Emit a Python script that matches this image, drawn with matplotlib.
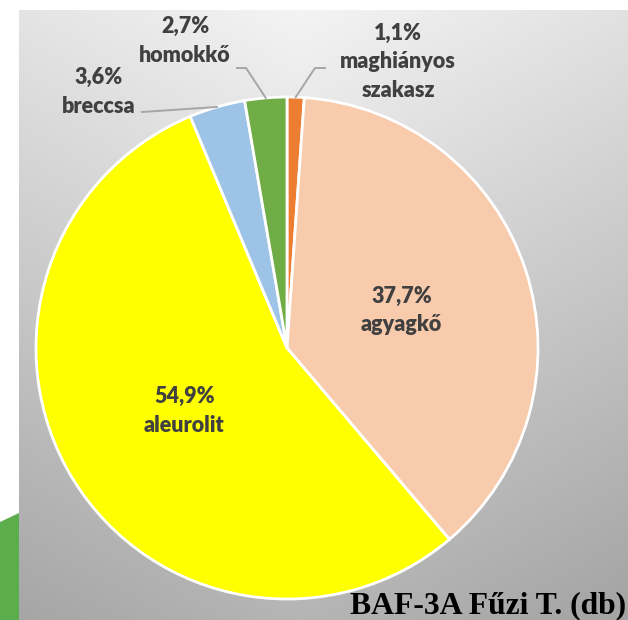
import matplotlib.pyplot as plt
import numpy as np

# Kőzettípusok aránya (BAF-3A Fűzi T.)
labels = ['maghiányos\nszakasz', 'agyagkő', 'aleurolit', 'breccsa', 'homokkő']
values = [1.1, 37.7, 54.9, 3.6, 2.7]
colors = ['#ED7D31', '#F8CBAD', '#FFFF00', '#9DC3E6', '#70AD47']
title = 'BAF-3A Fűzi T. (db)'

W, H = 628, 620
fig = plt.figure(figsize=(W / 100, H / 100), dpi=100)

# háttér: szürke átmenet + zöld sáv bal alul (pixel koordináták)
bg = fig.add_axes([0, 0, 1, 1])
bg.axis('off')
xx, yy = np.meshgrid(np.arange(19, W), np.arange(10, H))
shade = 0.96 - 0.25 * (yy / H) - 0.07 * (np.abs(xx - 300) / 320)
bg.imshow(np.dstack([shade] * 3), extent=[19, W, H, 10], aspect='auto', zorder=0)
bg.fill([0, 19, 19, 0], [522, 513, H, H], color='#5BAE4B', lw=0, zorder=1)
bg.set_xlim(0, W)
bg.set_ylim(H, 0)

# kör
cx, cy, r = 287, 348, 251
ax = fig.add_axes([(cx - r) / W, (H - cy - r) / H, 2 * r / W, 2 * r / H])
wedges, _ = ax.pie(values, colors=colors, startangle=90, counterclock=False,
                   wedgeprops=dict(edgecolor='white', linewidth=2))
ax.set_xlim(-1, 1)
ax.set_ylim(-1, 1)
ax.axis('off')


def px2d(px, py):
    return (px - cx) / r, (cy - py) / r


def mid_dir(w):
    a = np.deg2rad((w.theta1 + w.theta2) / 2)
    return np.cos(a), np.sin(a)


txt = dict(color='#404040', fontweight='heavy', family='Lato', fontsize=15.5,
           ha='center', va='center', linespacing=1.45)

def pct(v):
    return f'{v:.1f}%'.replace('.', ',')

# belső címkék
for i in (1, 2):
    dx, dy = mid_dir(wedges[i])
    ax.text(0.48 * dx, 0.48 * dy, pct(values[i]) + '\n' + labels[i], **txt)

# külső címkék vezetővonallal
outside = {
    0: ((398, 62), [(325, 68), (315, 68)]),
    3: ((99, 92), [(142, 112)]),
    4: ((185, 41), [(237, 68), (246, 68)]),
}
for i, ((lx, ly), pts) in outside.items():
    tx, ty = px2d(lx, ly)
    ax.text(tx, ty, pct(values[i]) + '\n' + labels[i], clip_on=False, **txt)
    dx, dy = mid_dir(wedges[i])
    line = [px2d(*p) for p in pts] + [(dx, dy)]
    ax.plot([p[0] for p in line], [p[1] for p in line], color='#A6A6A6',
            lw=1.4, clip_on=False)

bg.text(626, 613, title, family='Liberation Serif', fontweight='bold',
        fontsize=22.8, ha='right', va='baseline', color='black', zorder=5)

fig.savefig('out.png', dpi=100)
